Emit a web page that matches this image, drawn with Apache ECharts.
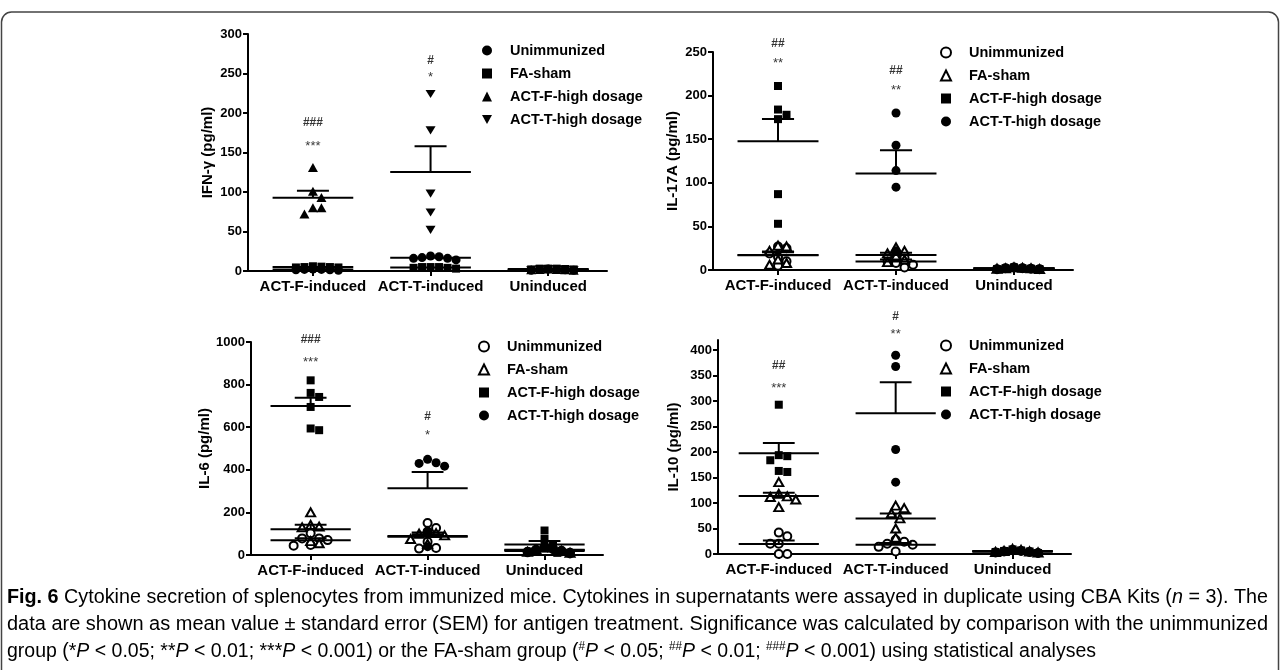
<!DOCTYPE html>
<html><head><meta charset="utf-8">
<script src="https://cdn.jsdelivr.net/npm/echarts@6/dist/echarts.min.js"></script>
<style>html,body{margin:0;padding:0;background:#fff}#c{width:1281px;height:670px}</style>
</head><body><div id="c"></div>
<script>
// ---------------- DATA ----------------
const categories = ['ACT-F-induced', 'ACT-T-induced', 'Uninduced'];
const legendNames = ['Unimmunized', 'FA-sham', 'ACT-F-high dosage', 'ACT-T-high dosage'];
const yTitles = ['IFN-γ (pg/ml)', 'IL-17A (pg/ml)', 'IL-6 (pg/ml)', 'IL-10 (pg/ml)'];

const ifnTicks = [0, 50, 100, 150, 200, 250, 300];
const il17Ticks = [0, 50, 100, 150, 200, 250];
const il6Ticks = [0, 200, 400, 600, 800, 1000];
const il10Ticks = [0, 50, 100, 150, 200, 250, 300, 350, 400];
const yMax = [300, 250, 1000, 420];

// IFN-γ : [ACT-F-induced, ACT-T-induced, Uninduced]
const ifnUnimmunized = [[2, 1.5, 2.5, 1, 2, 1.5], [18, 19, 14, 16, 16, 17], [2, 1, 2.5, 1.5, 2, 1]];
const ifnFaSham      = [[5, 5.5, 4.5, 6, 5, 4.5], [5, 4, 4, 5, 3, 5], [3, 2, 3, 2.5, 2, 3]];
const ifnActFHigh    = [[131, 101, 93, 80, 80, 72], [], [1.5, 2.5, 1, 2, 1.5, 2]];
const ifnActTHigh    = [[], [224, 178, 98, 74, 52], [2, 1, 2, 1.5, 2.5, 1]];

// IL-17A
const il17Unimmunized = [[25, 27, 19, 15, 10, 5], [18, 14, 10, 8, 6, 3], [2, 1, 3, 1.5, 2, 1]];
const il17FaSham      = [[28, 27, 22, 12, 8, 6], [26, 22, 19, 16, 12, 9], [3, 2, 1, 2.5, 1.5, 2]];
const il17ActFHigh    = [[211, 184, 178, 173, 87, 53], [], [2, 1, 3, 2, 1, 1.5]];
const il17ActTHigh    = [[], [180, 143, 114, 95, 22], [1, 2, 3, 1.5, 2, 1]];

// IL-6
const il6Unimmunized = [[78, 102, 78, 44, 47, 70], [150, 127, 110, 62, 33, 30], [40, 30, 25, 20, 15, 10]];
const il6FaSham      = [[200, 141, 133, 130, 65, 55], [110, 103, 100, 92, 75, 52], [45, 35, 25, 20, 15, 10]];
const il6ActFHigh    = [[820, 761, 742, 695, 594, 586], [], [115, 75, 45, 30, 20, 10]];
const il6ActTHigh    = [[], [449, 433, 430, 417, 110, 39], [35, 25, 20, 15, 10, 5]];

// IL-10
const il10Unimmunized = [[42, 35, 20, 20, 0, 0], [28, 24, 20, 18, 14, 5], [8, 6, 5, 4, 3, 2]];
const il10FaSham      = [[141, 112, 118, 107, 113, 92], [95, 90, 80, 70, 50, 32], [10, 8, 6, 5, 4, 3]];
const il10ActFHigh    = [[293, 192, 184, 194, 161, 163], [], [9, 7, 6, 5, 4, 2]];
const il10ActTHigh    = [[], [390, 368, 205, 141], [8, 6, 5, 4, 3, 2]];

// significance marks (per category: ACT-F-induced, ACT-T-induced)
const ifnHashText = ['###', '#'];   const ifnHashY = [188, 266];
const ifnStarText = ['***', '*'];   const ifnStarY = [163, 250];
const il17HashText = ['##', '##'];  const il17HashY = [259, 229];
const il17StarText = ['**', '**'];  const il17StarY = [241, 211];
const il6HashText = ['###', '#'];   const il6HashY = [1012, 648];
const il6StarText = ['***', '*'];   const il6StarY = [925, 580];
const il10HashText = ['##', '#'];   const il10HashY = [369, 465];
const il10StarText = ['***', '**']; const il10StarY = [332, 438];

// ---------------- LAYOUT / STYLE ----------------
const F = '"Liberation Sans", Arial, sans-serif';
const layouts = [
  {left: 248, top: 34, width: 359, height: 237, xmin: -0.052, legendLeft: 482, legendTop: 43, nameGap: 33},
  {left: 713, top: 52, width: 360, height: 218, xmin: -0.051, legendLeft: 940, legendTop: 45, nameGap: 33},
  {left: 251, top: 342, width: 352, height: 213, xmin: -0.01, legendLeft: 478, legendTop: 339, nameGap: 36},
  {left: 718, top: 340, width: 353, height: 214, xmin: -0.02, legendLeft: 940, legendTop: 338, nameGap: 37}
];
const filledSet = [
  {symbol: 'circle', size: 9, color: '#000', bw: 0},
  {symbol: 'rect', size: 8, color: '#000', bw: 0},
  {symbol: 'triangle', size: [10, 9], color: '#000', bw: 0},
  {symbol: 'path://M0,0L10,0L5,9Z', size: [10, 9], color: '#000', bw: 0}
];
const openSet = [
  {symbol: 'circle', size: 8, color: '#fff', bw: 2},
  {symbol: 'triangle', size: [9, 8], color: '#fff', bw: 2},
  {symbol: 'rect', size: 8, color: '#000', bw: 0},
  {symbol: 'circle', size: 9, color: '#000', bw: 0}
];

const panels = [
  {ticks: ifnTicks, groups: [ifnUnimmunized, ifnFaSham, ifnActFHigh, ifnActTHigh], sym: filledSet,
   hashText: ifnHashText, hashY: ifnHashY, starText: ifnStarText, starY: ifnStarY},
  {ticks: il17Ticks, groups: [il17Unimmunized, il17FaSham, il17ActFHigh, il17ActTHigh], sym: openSet,
   hashText: il17HashText, hashY: il17HashY, starText: il17StarText, starY: il17StarY},
  {ticks: il6Ticks, groups: [il6Unimmunized, il6FaSham, il6ActFHigh, il6ActTHigh], sym: openSet,
   hashText: il6HashText, hashY: il6HashY, starText: il6StarText, starY: il6StarY},
  {ticks: il10Ticks, groups: [il10Unimmunized, il10FaSham, il10ActFHigh, il10ActTHigh], sym: openSet,
   hashText: il10HashText, hashY: il10HashY, starText: il10StarText, starY: il10StarY}
];

function swarmOffsets(vals, pxY, pxX, gap) {
  const order = vals.map((v, i) => i).sort((a, b) => vals[b] - vals[a]);
  const placed = []; const off = new Array(vals.length).fill(0);
  for (const i of order) {
    const y = vals[i] * pxY;
    for (let k = 0; k < 80; k++) {
      const dx = k === 0 ? 0 : (k % 2 ? 1 : -1) * Math.ceil(k / 2) * gap / 2;
      if (placed.every(p => (p[0] - dx) ** 2 + (p[1] - y) ** 2 >= gap * gap * 0.98)) {
        placed.push([dx, y]); off[i] = dx / pxX; break;
      }
    }
  }
  return off;
}
function meanSem(a) {
  const n = a.length, m = a.reduce((s, v) => s + v, 0) / n;
  if (n < 2) return [m, 0];
  const sd = Math.sqrt(a.reduce((s, v) => s + (v - m) ** 2, 0) / (n - 1));
  return [m, sd / Math.sqrt(n)];
}

const grid = [], xAxis = [], yAxis = [], series = [], legend = [];
const axisCol = {color: '#000', width: 2};

panels.forEach((P, p) => {
  const L = layouts[p];
  grid.push({left: L.left, top: L.top, width: L.width, height: L.height, containLabel: false});
  const centers = categories.map((c, i) => i + 0.5);
  xAxis.push({
    type: 'value', gridIndex: p, min: L.xmin, max: 3,
    axisLine: {show: true, onZero: false, lineStyle: axisCol},
    splitLine: {show: false},
    axisTick: {show: true, customValues: centers, length: 5, lineStyle: axisCol},
    axisLabel: {show: true, customValues: centers, formatter: v => categories[Math.floor(v)] || '',
      color: '#000', fontWeight: 'bold', fontSize: 15, fontFamily: F, margin: 8}
  });
  yAxis.push({
    type: 'value', gridIndex: p, min: 0, max: yMax[p],
    name: yTitles[p], nameLocation: 'middle', nameGap: L.nameGap,
    nameTextStyle: {color: '#000', fontWeight: 'bold', fontSize: 15, fontFamily: F},
    axisLine: {show: true, onZero: false, lineStyle: axisCol},
    splitLine: {show: false},
    axisTick: {show: true, customValues: P.ticks, length: 5, lineStyle: axisCol},
    axisLabel: {show: true, customValues: P.ticks, formatter: v => String(v), color: '#000', fontWeight: 'bold', fontSize: 13, fontFamily: F, margin: 6}
  });
  const pxY = L.height / yMax[p], pxX = L.width / (3 - L.xmin);
  const stats = [];
  P.groups.forEach((g, gi) => {
    const s = P.sym[gi];
    const data = [];
    g.forEach((vals, ci) => {
      if (!vals.length) return;
      const off = swarmOffsets(vals, pxY, pxX, 8.5);
      vals.forEach((v, k) => data.push([ci + 0.5 + off[k], v]));
      const ms = meanSem(vals);
      stats.push([ci + 0.5, ms[0], ms[1]]);
    });
    series.push({
      type: 'scatter', name: legendNames[gi] + '|' + p, xAxisIndex: p, yAxisIndex: p,
      symbol: s.symbol, symbolSize: s.size, symbolKeepAspect: true, clip: false, data,
      itemStyle: {color: s.color, borderColor: '#000', borderWidth: s.bw, opacity: 1},
      emphasis: {disabled: true}, z: 2
    });
  });
  series.push({
    type: 'custom', xAxisIndex: p, yAxisIndex: p, data: stats, clip: false, silent: true, z: 3,
    renderItem: (params, api) => {
      const cx = api.value(0), m = api.value(1), s = api.value(2);
      const p0 = api.coord([cx, m]), p1 = api.coord([cx, m + s]);
      const hw = api.size([0.343, 0])[0], cw = api.size([0.136, 0])[0];
      const st = {stroke: '#000', lineWidth: 2};
      const ch = [{type: 'line', shape: {x1: p0[0] - hw, y1: p0[1], x2: p0[0] + hw, y2: p0[1]}, style: st}];
      if (p0[1] - p1[1] > 1) {
        ch.push({type: 'line', shape: {x1: p0[0], y1: p0[1], x2: p0[0], y2: p1[1]}, style: st});
        ch.push({type: 'line', shape: {x1: p0[0] - cw, y1: p1[1], x2: p0[0] + cw, y2: p1[1]}, style: st});
      }
      return {type: 'group', children: ch};
    }
  });
  series.push({
    type: 'scatter', xAxisIndex: p, yAxisIndex: p, symbolSize: 0, clip: false, silent: true, z: 4,
    itemStyle: {color: 'rgba(0,0,0,0)'},
    data: P.hashText.map((t, i) => [i + 0.5, P.hashY[i], t]),
    label: {show: true, position: 'inside', formatter: d => d.data[2], color: '#000', fontSize: 12, fontWeight: 'bold', fontFamily: F}
  });
  series.push({
    type: 'scatter', xAxisIndex: p, yAxisIndex: p, symbolSize: 0, clip: false, silent: true, z: 4,
    itemStyle: {color: 'rgba(0,0,0,0)'},
    data: P.starText.map((t, i) => [i + 0.5, P.starY[i], t]),
    label: {show: true, position: 'inside', offset: [0, 4], formatter: d => d.data[2], color: '#000', fontSize: 13, fontFamily: F}
  });
  legend.push({
    orient: 'vertical', left: L.legendLeft, top: L.legendTop, padding: 0,
    itemWidth: 10, itemHeight: 10, itemGap: 8, selectedMode: false, symbolKeepAspect: true,
    data: legendNames.map(n => n + '|' + p),
    formatter: n => n.split('|')[0],
    textStyle: {color: '#000', fontWeight: 'bold', fontSize: 14.5, fontFamily: F, padding: [0, 0, 0, 13]}
  });
});

// ---------------- CAPTION ----------------
const CF = '"Liberation Sans", Arial, sans-serif';
const CS = 20;
const richDef = {
  n: {fontSize: CS, fontFamily: CF, fill: '#000'},
  b: {fontSize: CS, fontFamily: CF, fontWeight: 'bold', fill: '#000'},
  i: {fontSize: CS, fontFamily: CF, fontStyle: 'italic', fill: '#000'},
  s: {fontSize: 12, fontFamily: CF, fill: '#000', padding: [0, 0, 9, 0]}
};
const fontOf = {n: CS + 'px ' + CF, b: 'bold ' + CS + 'px ' + CF, i: 'italic ' + CS + 'px ' + CF, s: '12px ' + CF};
const captionLines = [
  [['b', 'Fig. 6'], ['n', ' Cytokine secretion of splenocytes from immunized mice. Cytokines in supernatants were assayed in duplicate using CBA Kits ('], ['i', 'n'], ['n', ' = 3). The']],
  [['n', 'data are shown as mean value ± standard error (SEM) for antigen treatment. Significance was calculated by comparison with the unimmunized']],
  [['n', 'group (*'], ['i', 'P'], ['n', ' < 0.05; **'], ['i', 'P'], ['n', ' < 0.01; ***'], ['i', 'P'], ['n', ' < 0.001) or the FA-sham group ('],
   ['s', '#'], ['i', 'P'], ['n', ' < 0.05; '], ['s', '##'], ['i', 'P'], ['n', ' < 0.01; '], ['s', '###'], ['i', 'P'], ['n', ' < 0.001) using statistical analyses']]
];
const captionWidths = [1261, 1261, 1089];
const captionY = [597, 624, 651];
const ctx = document.createElement('canvas').getContext('2d');
const graphics = [{
  type: 'rect', shape: {x: 1.5, y: 12, width: 1277, height: 700, r: 10},
  style: {fill: 'none', stroke: '#444', lineWidth: 1.5}, silent: true
}];
captionLines.forEach((parts, li) => {
  let w = 0;
  parts.forEach(([k, t]) => { ctx.font = fontOf[k]; w += ctx.measureText(t).width; });
  graphics.push({
    type: 'text', x: 7, y: captionY[li], scaleX: captionWidths[li] / w, silent: true,
    style: {text: parts.map(([k, t]) => '{' + k + '|' + t + '}').join(''), rich: richDef,
      fontSize: CS, fontFamily: CF, fill: '#000', align: 'left', verticalAlign: 'middle'}
  });
});

const chart = echarts.init(document.getElementById('c'));
chart.setOption({
  animation: false, backgroundColor: '#fff',
  grid, xAxis, yAxis, series, legend, graphic: graphics
});
</script></body></html>
